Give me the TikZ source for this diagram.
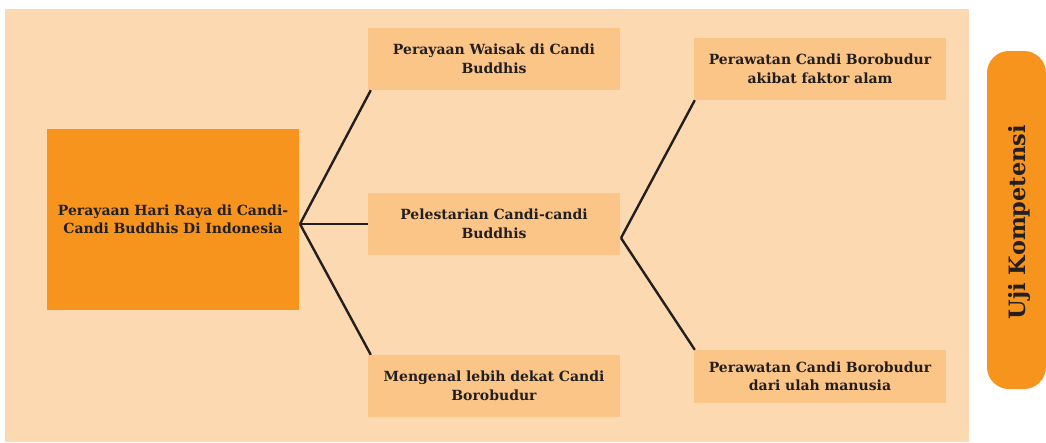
\documentclass[tikz,border=0pt]{standalone}
\usepackage{fontspec}
\setmainfont{DejaVu Serif}
\usetikzlibrary{calc}
\definecolor{bgc}{HTML}{FCD9B0}
\definecolor{boxc}{HTML}{FBC588}
\definecolor{mainc}{HTML}{F7941E}
\definecolor{txtc}{HTML}{231F20}
\tikzset{
  x=1pt, y=-1pt,
  topic/.style={fill=boxc, minimum width=252pt, minimum height=62pt, inner sep=0pt, text width=250pt, align=center, text=txtc, font=\fontsize{14}{18.5}\selectfont\bfseries},
  conn/.style={draw=txtc, line width=2.4pt},
}
\begin{document}
\begin{tikzpicture}
\useasboundingbox (0,0) rectangle (1046,442);
\fill[bgc] (5,9) rectangle (969,442);
\node[topic, fill=mainc, minimum height=181pt] (main) at (173,219.5) {Perayaan Hari Raya di Candi-\\Candi Buddhis Di Indonesia};
\node[topic] (waisak) at (494,59) {Perayaan Waisak di Candi\\Buddhis};
\node[topic] (lest) at (494,224) {Pelestarian Candi-candi\\Buddhis};
\node[topic] (kenal) at (494,386) {Mengenal lebih dekat Candi\\Borobudur};
\node[topic] (alam) at (820,69) {Perawatan Candi Borobudur\\akibat faktor alam};
\node[topic, minimum height=53pt] (manusia) at (820,376.5) {Perawatan Candi Borobudur\\dari ulah manusia};
\coordinate (j1) at (300,224);
\coordinate (j2) at (621,238);
\draw[conn] (j1) -- ($(waisak.south west)+(3,0)$);
\draw[conn] (j1) -- (lest.west);
\draw[conn] (j1) -- ($(kenal.north west)+(3,0)$);
\draw[conn] (j2) -- ($(alam.south west)+(1,0)$);
\draw[conn] (j2) -- ($(manusia.north west)+(1,0)$);
\fill[mainc, rounded corners=22pt] (987,51) rectangle (1046,389);
\node[rotate=90, text=txtc, font=\fontsize{22.5}{26}\selectfont\bfseries] (uji) at (1019,222) {Uji Kompetensi};
\end{tikzpicture}
\end{document}
